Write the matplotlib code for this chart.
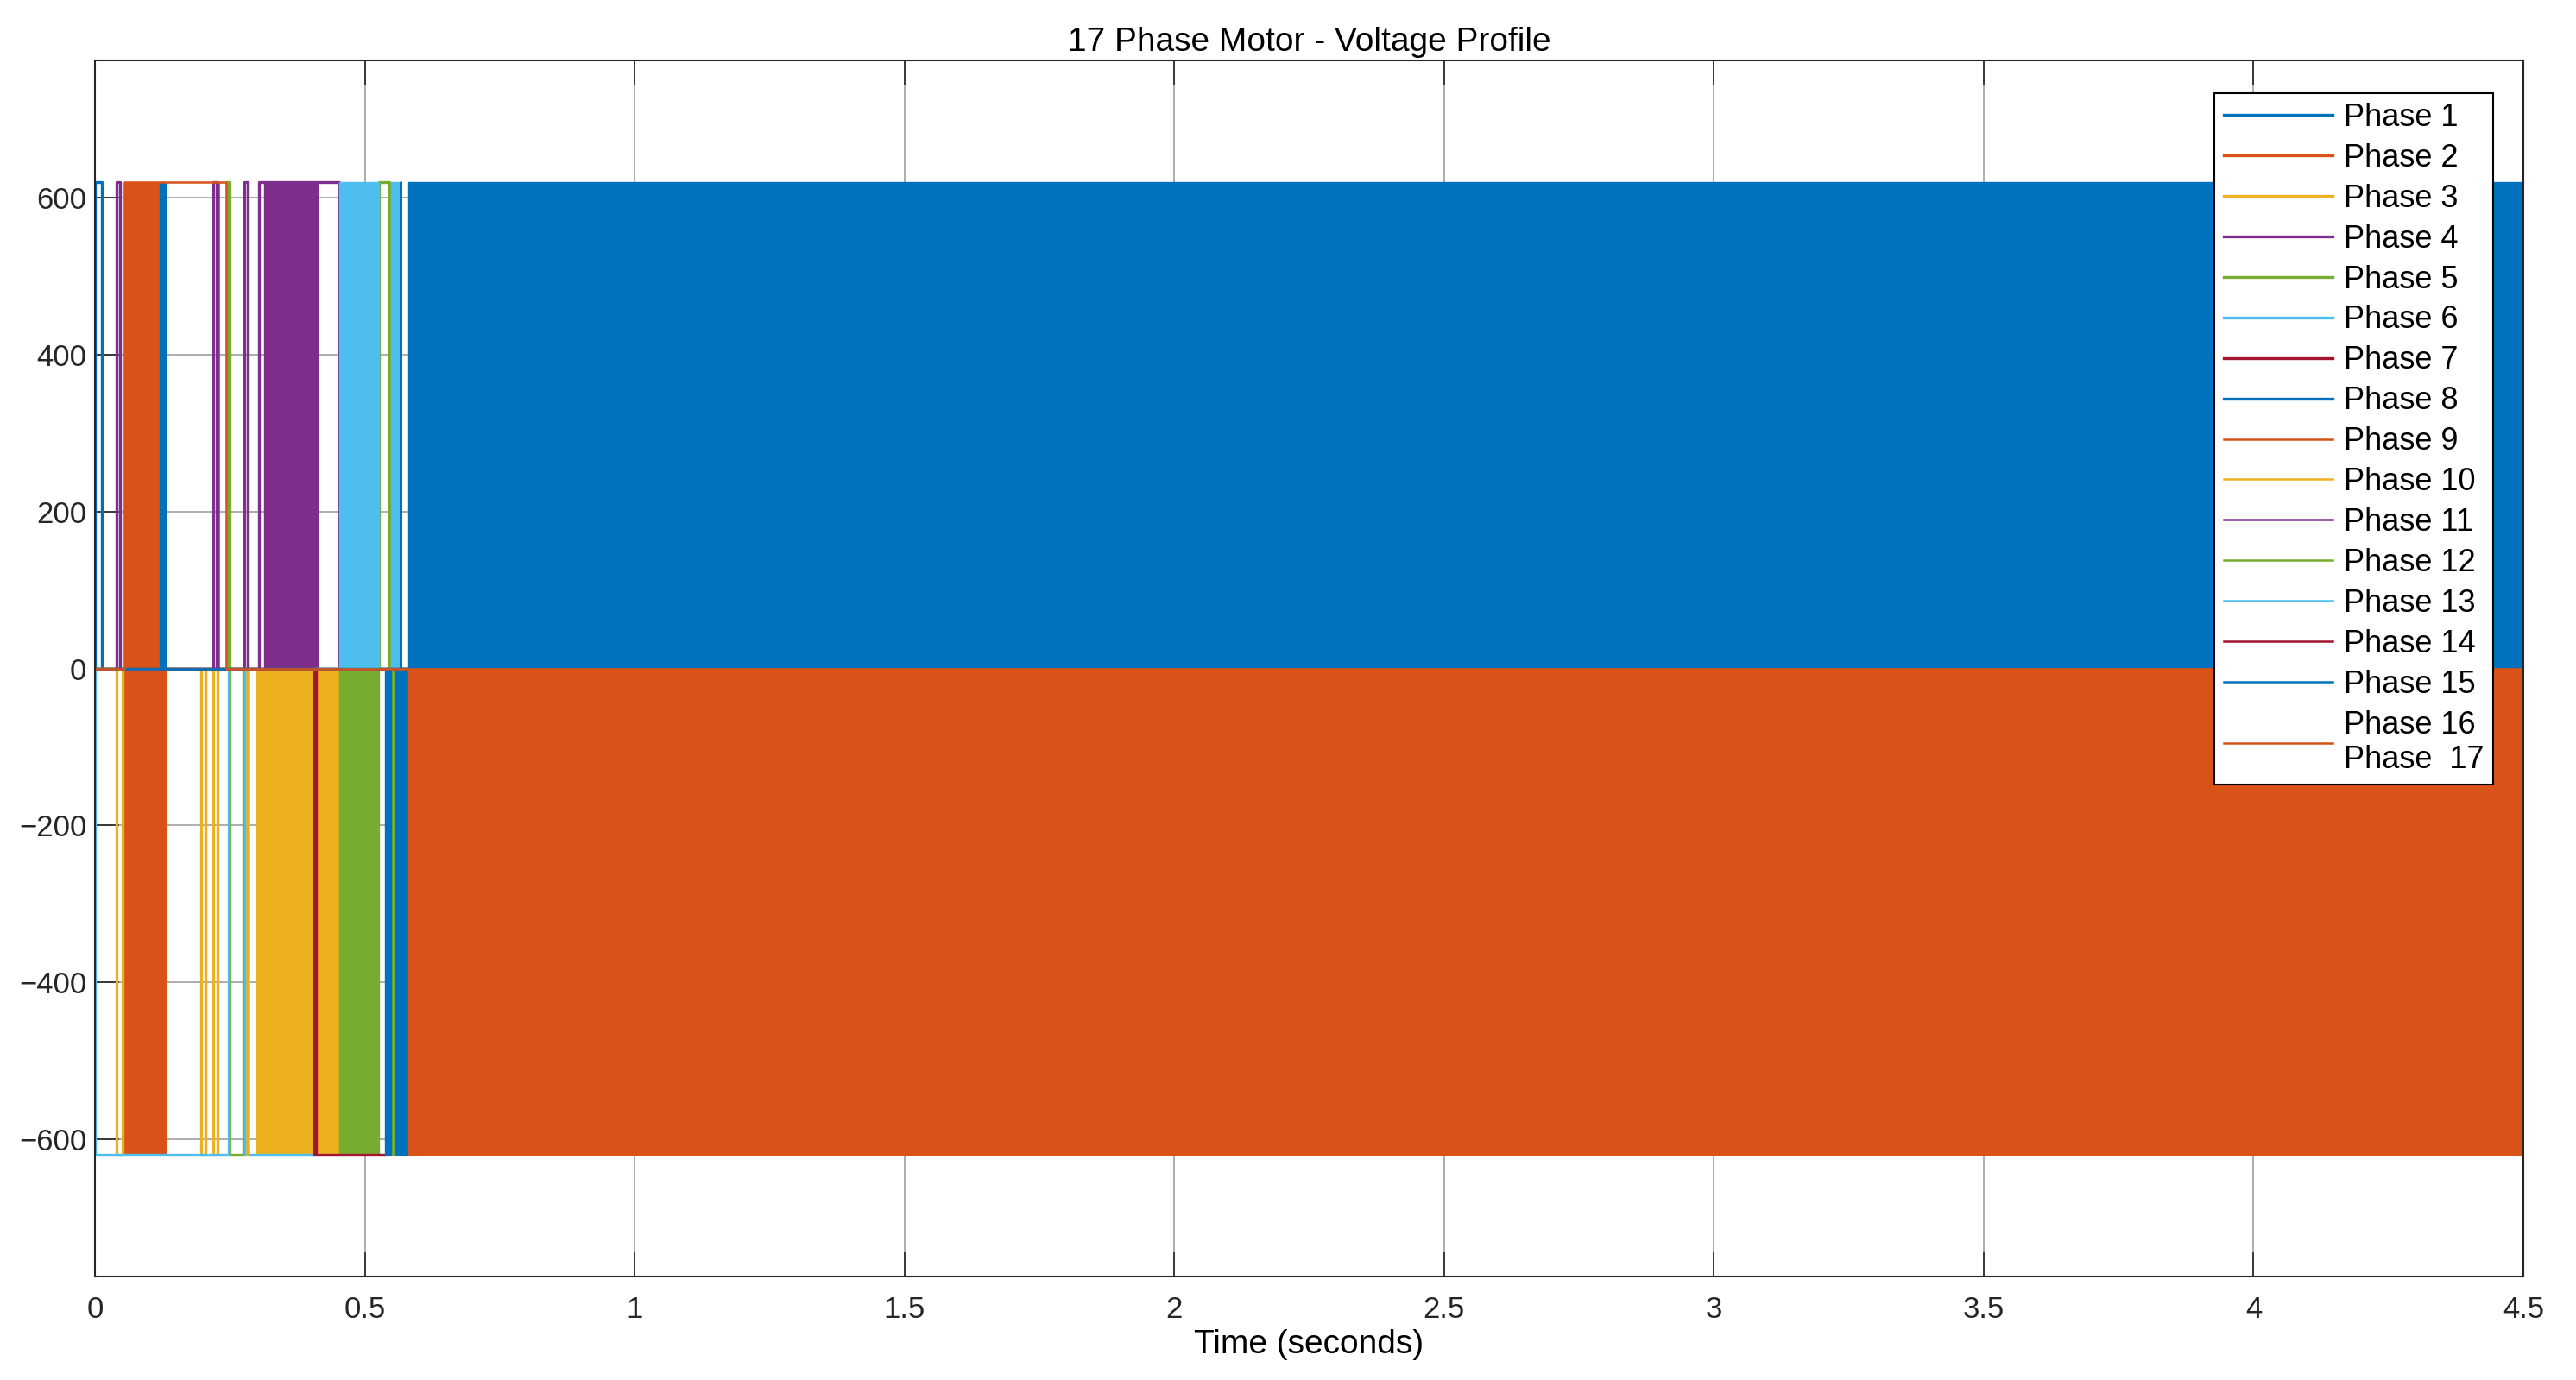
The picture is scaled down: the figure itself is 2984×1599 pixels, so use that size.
import matplotlib.pyplot as plt
import numpy as np

# --- data -----------------------------------------------------------------
T_END = 4.5
VDC = 620

phase_names = ["Phase %d" % i for i in range(1, 16)] + ["Phase 16\nPhase  17"]
phase_colors = ["#0072BD", "#D95319", "#EDB120", "#7E2F8E",
                "#77AC30", "#4DBEEE", "#A2142F"]

# switching instants (s) and the level each phase jumps to at that instant
switch_times = [
    [0.000, 0.012],                                        # 1
    [],                                                    # 2
    [0.040, 0.051, 0.197, 0.205, 0.219, 0.227],            # 3
    [0.040, 0.047, 0.219, 0.225, 0.277, 0.283, 0.304, 0.453],  # 4
    [0.245, 0.249, 0.275, 0.526, 0.546],                   # 5
    [0.000, 0.248, 0.278, 0.408],                          # 6
    [0.407, 0.540],                                        # 7
    [],                                                    # 8
    [],                                                    # 9
    [0.282, 0.284],                                        # 10
    [0.226, 0.228],                                        # 11
    [],                                                    # 12
    [],                                                    # 13
    [],                                                    # 14
    [0.566, 0.567],                                        # 15
    [0.055, 0.243],                                        # 16
]
switch_levels = [
    [620, 0],
    [],
    [-620, 0, -620, 0, -620, 0],
    [620, 0, 620, 0, 620, 0, 620, 0],
    [620, -620, 0, 620, 0],
    [-620, 0, -620, 0],
    [-620, 0],
    [],
    [],
    [-620, 0],
    [620, 0],
    [],
    [],
    [],
    [620, 0],
    [620, 0],
]

# PWM stretches switching too fast to resolve -> solid bands
band_phase = [2, 2, 3, 4, 5, 5, 6, 6, 7, 8, 8, 8, 15, 16]
band_start = [0.055, 0.120, 0.299, 0.313, 0.453, 0.549, 0.453, 0.549,
              0.405, 0.120, 0.538, 0.557, 0.581, 0.581]
band_end = [0.120, 0.131, 0.453, 0.413, 0.526, 0.557, 0.526, 0.565,
            0.411, 0.131, 0.549, 0.581, 4.5, 4.5]
band_low = [-620, -620, -620, 0, -620, -620, 0, 0, -620, 0, -620, -620, 0, -620]
band_high = [620, 0, 0, 620, 0, 0, 620, 620, 0, 620, 0, 0, 620, 0]

x_ticks = [0, 0.5, 1, 1.5, 2, 2.5, 3, 3.5, 4, 4.5]
x_tick_labels = ["0", "0.5", "1", "1.5", "2", "2.5", "3", "3.5", "4", "4.5"]
y_ticks = [-600, -400, -200, 0, 200, 400, 600]

# --- plot -------------------------------------------------------------------
plt.rcParams["font.family"] = ["Liberation Sans", "DejaVu Sans"]
plt.rcParams["axes.unicode_minus"] = True

fig = plt.figure(figsize=(14.92, 7.995), dpi=200)
ax = fig.add_axes([110 / 2984, 1 - 1479 / 1599, 2813 / 2984, 1409 / 1599])

handles = []
for p in range(1, 17):
    col = phase_colors[(p - 1) % 7]
    lw = 1.2 if p <= 8 else 0.9

    for ph, s, e, lo, hi in zip(band_phase, band_start, band_end, band_low, band_high):
        if ph == p:
            ax.fill_between([s, e], [lo, lo], [hi, hi], color=col,
                            lw=0.5, zorder=2)

    t = [0.0] + switch_times[p - 1] + [T_END]
    v = [0] + switch_levels[p - 1]
    v = v + [v[-1]]
    ln, = ax.step(t, v, where="post", color=col, lw=lw, zorder=2)
    handles.append(ln)

ax.set_xlim(0, T_END)
ax.set_ylim(-775, 775)
ax.set_xticks(x_ticks, x_tick_labels)
ax.set_yticks(y_ticks)

ax.set_axisbelow(True)
ax.grid(True, color="#a0a0a0", lw=0.6)
ax.tick_params(direction="in", length=10, width=0.6, top=True, right=True,
               color="#262626", labelcolor="#262626", labelsize=12.5)
ax.tick_params(axis="x", pad=8)
ax.tick_params(axis="y", pad=3.5)
for sp in ax.spines.values():
    sp.set_color("#262626")
    sp.set_linewidth(0.75)

ax.set_title("17 Phase Motor - Voltage Profile", fontsize=14, pad=4)
ax.set_xlabel("Time (seconds)", fontsize=14, labelpad=2)

leg = ax.legend(handles, phase_names, loc="upper right",
                bbox_to_anchor=(2888 / 2984, 1 - 108 / 1599),
                bbox_transform=fig.transFigure, borderaxespad=0,
                fontsize=13, frameon=True, fancybox=False, framealpha=1,
                edgecolor="black", handlelength=3.5, handletextpad=0.35,
                labelspacing=0.33, borderpad=0.3)
leg.get_frame().set_linewidth(0.75)
leg.set_zorder(5)

fig.savefig("out.png", dpi=200)
